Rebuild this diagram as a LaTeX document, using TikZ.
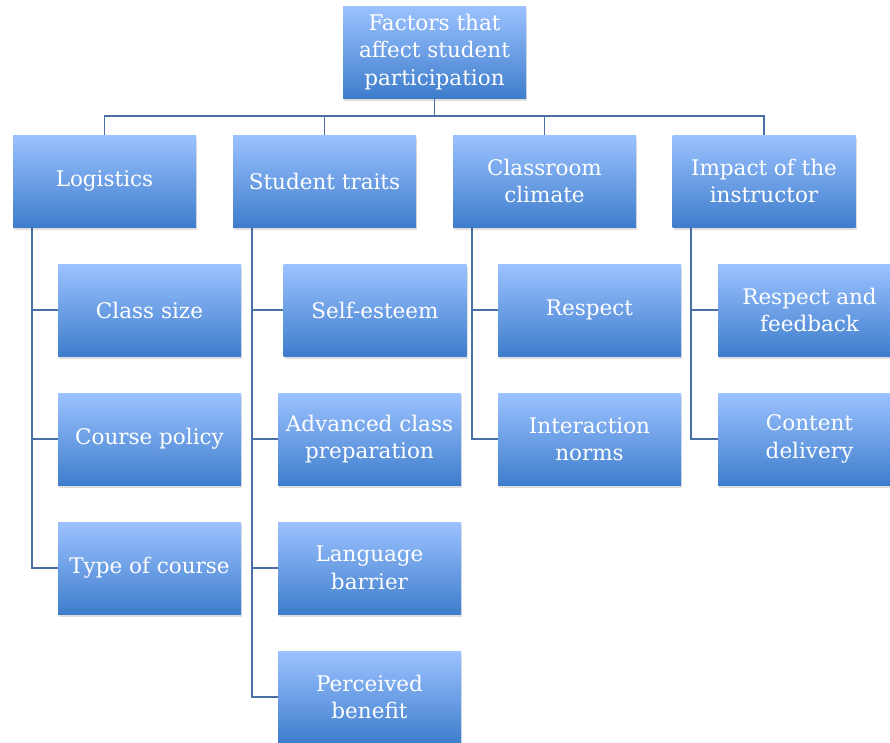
\documentclass[tikz,border=0pt]{standalone}
\usepackage{fontspec}
\setmainfont{DejaVu Serif}
\usepackage{tikz}
\usetikzlibrary{shadows}

\definecolor{boxtop}{HTML}{9CC2FF}
\definecolor{boxbot}{HTML}{3E7DCC}
\definecolor{linkcol}{HTML}{4A6FA5}

\begin{document}
\begin{tikzpicture}[x=1pt, y=-1pt,
    factor/.style={rectangle, minimum width=183pt, minimum height=92pt,
      inner sep=2pt, align=center, text=white,
      font=\fontsize{21.5}{27.5}\selectfont,
      top color=boxtop, bottom color=boxbot,
      drop shadow={opacity=0.25, shadow xshift=1pt, shadow yshift=-3pt}},
    link/.style={draw=linkcol, line width=1.8pt}]

  \useasboundingbox (0,0) rectangle (890,742);
  \fill[white] (0,0) rectangle (890,742);

  \newcommand\RA{310};
  \newcommand\RB{439};
  \newcommand\RC{568};
  \newcommand\RD{697};

  \begin{scope}
  \clip (0,0) rectangle (890,742);

  %% top and first level
  \node[factor] (top) at (434.5, 52) {Factors that\\affect student\\participation};
  \node[factor] (log) at (104.5, 181) {Logistics};
  \node[factor] (stu) at (324.5, 181) {Student traits};
  \node[factor] (cli) at (544.5, 181) {Classroom\\climate};
  \node[factor] (ins) at (764, 181) {Impact of the\\instructor};

  %% children
  \node[factor] (size) at (149.5, \RA) {Class size};
  \node[factor] (pol)  at (149.5, \RB) {Course policy};
  \node[factor] (type) at (149.5, \RC) {Type of course};

  \node[factor] (est)  at (375, \RA) {Self-esteem};
  \node[factor] (prep) at (369.5, \RB) {Advanced class\\preparation};
  \node[factor] (lang) at (369.5, \RC) {Language\\barrier};
  \node[factor] (ben)  at (369.5, \RD) {Perceived\\benefit};

  \node[factor] (resp) at (589.5, \RA) {Respect};
  \node[factor] (norm) at (589.5, \RB) {Interaction\\norms};

  \node[factor] (fb)   at (809.5, \RA) {Respect and\\feedback};
  \node[factor] (del)  at (809.5, \RB) {Content\\delivery};
  \end{scope}

  %% top -> first level
  \draw[link] (top.south) -- ++(0,18) coordinate (bar) -| (log.north);
  \draw[link] (bar) -| (stu.north);
  \draw[link] (bar) -| (cli.north);
  \draw[link] (bar) -| (ins.north);

  %% first level -> children
  \draw[link] ([xshift=19pt]log.south west) |- (size.west);
  \draw[link] ([xshift=19pt]log.south west) |- (pol.west);
  \draw[link] ([xshift=19pt]log.south west) |- (type.west);

  \draw[link] ([xshift=19pt]stu.south west) |- (est.west);
  \draw[link] ([xshift=19pt]stu.south west) |- (prep.west);
  \draw[link] ([xshift=19pt]stu.south west) |- (lang.west);
  \draw[link] ([xshift=19pt]stu.south west) |- (ben.west);

  \draw[link] ([xshift=19pt]cli.south west) |- (resp.west);
  \draw[link] ([xshift=19pt]cli.south west) |- (norm.west);

  \draw[link] ([xshift=19pt]ins.south west) |- (fb.west);
  \draw[link] ([xshift=19pt]ins.south west) |- (del.west);
\end{tikzpicture}
\end{document}
